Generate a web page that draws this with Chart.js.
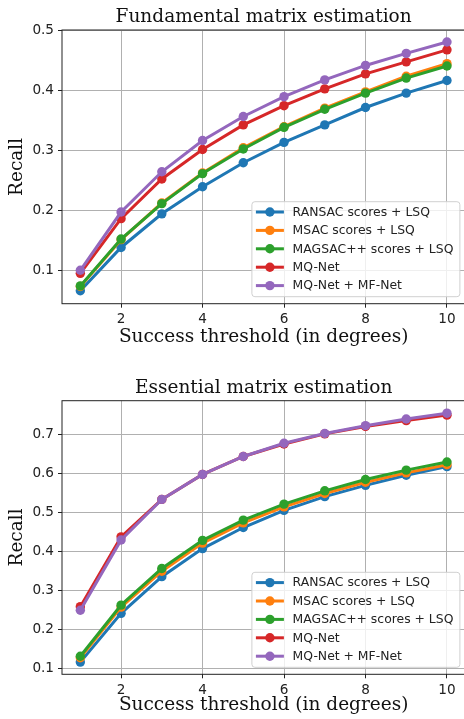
<!DOCTYPE html>
<html>
<head>
<meta charset="utf-8">
<script src="https://cdn.jsdelivr.net/npm/chart.js@4"></script>
<style>
  html, body { margin: 0; padding: 0; background: #fff; overflow: hidden; }
  canvas { display: block; }
</style>
</head>
<body>
<canvas id="fundamental" width="470" height="360"></canvas>
<canvas id="essential" width="470" height="359"></canvas>
<script>
let thresholds = [1, 2, 3, 4, 5, 6, 7, 8, 9, 10]
let methodNames = ['RANSAC scores + LSQ', 'MSAC scores + LSQ', 'MAGSAC++ scores + LSQ', 'MQ-Net', 'MQ-Net + MF-Net']
let methodColors = ['#1f77b4', '#ff7f0e', '#2ca02c', '#d62728', '#9467bd']

// fundamental matrix recall
let fundRansac = [0.066, 0.138, 0.194, 0.239, 0.279, 0.313, 0.342, 0.371, 0.395, 0.416]
let fundMsac = [0.073, 0.151, 0.212, 0.262, 0.304, 0.339, 0.370, 0.397, 0.423, 0.444]
let fundMagsac = [0.074, 0.152, 0.211, 0.261, 0.302, 0.338, 0.368, 0.395, 0.420, 0.440]
let fundMqnet = [0.095, 0.186, 0.252, 0.301, 0.342, 0.374, 0.402, 0.427, 0.447, 0.467]
let fundMqmf = [0.100, 0.197, 0.264, 0.316, 0.356, 0.389, 0.417, 0.441, 0.461, 0.480]

// essential matrix recall
let essRansac = [0.117, 0.242, 0.336, 0.408, 0.462, 0.506, 0.541, 0.570, 0.596, 0.618]
let essMsac = [0.128, 0.258, 0.350, 0.422, 0.474, 0.515, 0.549, 0.578, 0.602, 0.623]
let essMagsac = [0.132, 0.263, 0.357, 0.429, 0.481, 0.522, 0.556, 0.585, 0.609, 0.630]
let essMqnet = [0.259, 0.438, 0.534, 0.598, 0.644, 0.676, 0.702, 0.721, 0.736, 0.750]
let essMqmf = [0.250, 0.430, 0.534, 0.598, 0.644, 0.678, 0.703, 0.723, 0.740, 0.755]

let xTicks = [2, 4, 6, 8, 10]
let fundYTicks = [0.1, 0.2, 0.3, 0.4, 0.5]
let essYTicks = [0.1, 0.2, 0.3, 0.4, 0.5, 0.6, 0.7]

const sans = 'DejaVu Sans'
const serif = 'DejaVu Serif'
const labelSize = 18.5

function makeDatasets(seriesList) {
  return seriesList.map(function (vals, i) {
    return {
      label: methodNames[i],
      data: thresholds.map((t, k) => ({x: t, y: vals[k]})),
      // later series sit on top, like matplotlib
      order: seriesList.length - 1 - i,
      borderColor: methodColors[i],
      backgroundColor: methodColors[i],
      borderWidth: 3,
      pointRadius: 4.7,
      pointHoverRadius: 4.7,
      pointBorderWidth: 0,
      tension: 0
    }
  })
}

// frame + matplotlib-like legend in the lower right
let boxAndLegend = {
  id: 'boxAndLegend',
  afterDatasetsDraw(chart) {
    let ctx = chart.ctx
    let a = chart.chartArea
    ctx.save()
    ctx.strokeStyle = '#222'
    ctx.lineWidth = 1
    ctx.strokeRect(a.left, a.top, a.right - a.left, a.bottom - a.top)

    let w = 208, h = 95
    let left = a.right - 5.4 - w
    let top = a.bottom - 7 - h
    ctx.fillStyle = 'rgba(255,255,255,0.8)'
    ctx.strokeStyle = '#d0d0d0'
    ctx.beginPath()
    ctx.roundRect(left, top, w, h, 3)
    ctx.fill()
    ctx.stroke()

    ctx.font = '12.4px "' + sans + '"'
    ctx.textBaseline = 'middle'
    chart.data.datasets.forEach(function (ds, i) {
      let y = top + 10.3 + i * 18.4
      ctx.strokeStyle = ds.borderColor
      ctx.lineWidth = 3
      ctx.beginPath()
      ctx.moveTo(left + 4, y)
      ctx.lineTo(left + 32, y)
      ctx.stroke()
      ctx.fillStyle = ds.borderColor
      ctx.beginPath()
      ctx.arc(left + 18, y, 4.7, 0, Math.PI * 2)
      ctx.fill()
      ctx.fillStyle = '#222'
      ctx.fillText(ds.label, left + 40.7, y + 0.5)
    })
    ctx.restore()
  }
}

function makeChart(canvasId, title, seriesList, yMin, yMax, yTicks, geo) {
  return new Chart(document.getElementById(canvasId), {
    type: 'line',
    data: {datasets: makeDatasets(seriesList)},
    options: {
      responsive: false,
      animation: false,
      events: [],
      layout: {padding: {left: 0, right: 2.6, top: 0, bottom: 0}},
      plugins: {
        legend: {display: false},
        tooltip: {enabled: false},
        title: {
          display: true,
          text: title,
          fullSize: false,
          color: '#111',
          font: {family: serif, size: labelSize, weight: 'normal', lineHeight: 1.2},
          padding: {top: geo.titleTop, bottom: geo.titleBottom}
        }
      },
      scales: {
        x: {
          type: 'linear',
          min: 0.55,
          max: 10.45,
          afterBuildTicks: s => { s.ticks = xTicks.map(v => ({value: v})) },
          afterFit: s => { s.height = geo.xHeight },
          grid: {color: '#b0b0b0', lineWidth: 1, tickLength: 4, tickColor: '#222', drawTicks: true},
          border: {display: false},
          ticks: {color: '#222', padding: 4, font: {family: sans, size: 13.6}, maxRotation: 0},
          title: {
            display: true,
            text: 'Success threshold (in degrees)',
            color: '#111',
            font: {family: serif, size: labelSize, lineHeight: 1.2},
            padding: {top: 0, bottom: geo.xTitlePad}
          }
        },
        y: {
          type: 'linear',
          min: yMin,
          max: yMax,
          afterBuildTicks: s => { s.ticks = yTicks.map(v => ({value: v})) },
          afterFit: s => { s.width = 62 },
          grid: {color: '#b0b0b0', lineWidth: 1, tickLength: 4, tickColor: '#222', drawTicks: true},
          border: {display: false},
          ticks: {color: '#222', padding: 4, font: {family: sans, size: 13.6}, callback: v => v.toFixed(1)},
          title: {
            display: true,
            text: 'Recall',
            color: '#111',
            font: {family: serif, size: labelSize, lineHeight: 1.2},
            padding: {top: 6.2, bottom: 0}
          }
        }
      }
    },
    plugins: [boxAndLegend]
  })
}

makeChart('fundamental', 'Fundamental matrix estimation',
  [fundRansac, fundMsac, fundMagsac, fundMqnet, fundMqmf],
  0.0444, 0.5, fundYTicks,
  {titleTop: 5.9, titleBottom: 1.9, xHeight: 56.3, xTitlePad: 11.4})

makeChart('essential', 'Essential matrix estimation',
  [essRansac, essMsac, essMagsac, essMqnet, essMqmf],
  0.0857, 0.787, essYTicks,
  {titleTop: 17.4, titleBottom: 1.1, xHeight: 44.7, xTitlePad: 2.4})
</script>
</body>
</html>
